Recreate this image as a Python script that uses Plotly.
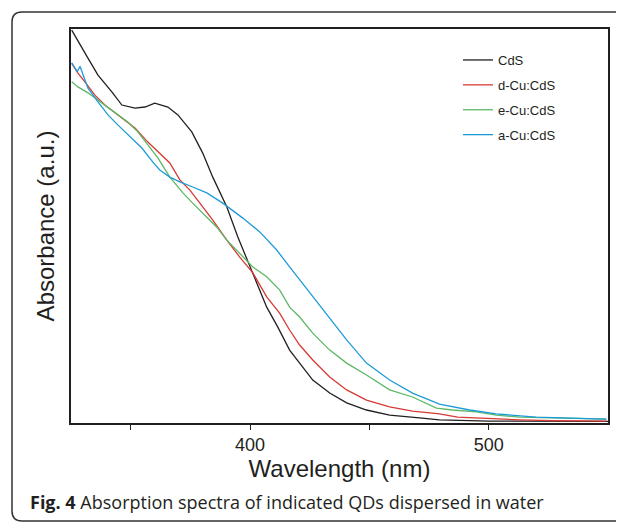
import plotly.graph_objects as go

# ---------------- data ----------------
cds_wl = [325.3, 328.8, 332.1, 336.3, 342.2, 346.3, 351.8, 356.0, 360.1, 365.6, 369.8,
          375.6, 380.2, 384.4, 390.3, 394.9, 401.2, 407.0, 411.6, 416.6, 420.8, 426.3,
          433.4, 440.5, 448.8, 458.5, 471.0, 479.4, 500.0, 525.0, 550.0]
cds_abs = [0.997, 0.959, 0.926, 0.883, 0.840, 0.807, 0.799, 0.802, 0.812, 0.802, 0.782,
           0.739, 0.685, 0.624, 0.548, 0.472, 0.381, 0.294, 0.244, 0.185, 0.152, 0.109,
           0.076, 0.051, 0.033, 0.020, 0.013, 0.008, 0.005, 0.004, 0.004]

d_wl = [325.3, 327.9, 330.9, 335.0, 339.2, 343.4, 347.6, 351.8, 357.2, 363.1, 366.4,
        370.6, 374.8, 379.0, 384.4, 390.3, 395.7, 401.2, 407.0, 412.4, 416.6, 420.8,
        426.3, 433.4, 440.5, 448.8, 458.5, 468.1, 479.4, 487.0, 499.1, 512.9, 526.7, 549.3]
d_abs = [0.913, 0.888, 0.865, 0.832, 0.807, 0.787, 0.769, 0.749, 0.713, 0.680, 0.660,
         0.617, 0.591, 0.558, 0.515, 0.464, 0.421, 0.381, 0.320, 0.279, 0.236, 0.198,
         0.160, 0.117, 0.084, 0.058, 0.041, 0.030, 0.023, 0.015, 0.011, 0.008, 0.006, 0.005]

e_wl = [325.3, 327.9, 332.1, 336.3, 340.5, 344.7, 348.8, 353.0, 357.2, 361.4, 366.4,
        371.9, 376.0, 380.2, 386.1, 390.3, 395.7, 401.2, 407.0, 412.4, 416.6, 420.8,
        426.3, 433.4, 440.5, 448.8, 458.5, 468.1, 478.1, 484.8, 494.9, 503.2, 512.9,
        526.7, 549.3]
e_abs = [0.866, 0.853, 0.838, 0.820, 0.802, 0.782, 0.764, 0.739, 0.706, 0.673, 0.624,
         0.584, 0.558, 0.533, 0.497, 0.464, 0.431, 0.396, 0.371, 0.338, 0.294, 0.269,
         0.228, 0.185, 0.152, 0.122, 0.084, 0.066, 0.038, 0.033, 0.028, 0.020, 0.015,
         0.013, 0.010]

a_wl = [325.3, 327.6, 328.8, 332.1, 336.3, 340.5, 344.7, 350.5, 354.7, 359.3, 362.2,
        366.4, 370.6, 376.0, 381.9, 388.6, 397.0, 404.1, 411.2, 416.6, 420.8, 426.3,
        433.4, 440.5, 448.8, 458.5, 468.1, 479.4, 492.0, 503.2, 519.9, 533.7, 549.3]
a_abs = [0.914, 0.892, 0.905, 0.850, 0.815, 0.782, 0.756, 0.723, 0.698, 0.662, 0.642,
         0.624, 0.612, 0.599, 0.584, 0.558, 0.520, 0.485, 0.439, 0.396, 0.363, 0.320,
         0.266, 0.211, 0.152, 0.109, 0.076, 0.048, 0.033, 0.023, 0.015, 0.013, 0.010]

series_names = ["CdS", "d-Cu:CdS", "e-Cu:CdS", "a-Cu:CdS"]
series_x = [cds_wl, d_wl, e_wl, a_wl]
series_y = [cds_abs, d_abs, e_abs, a_abs]
series_colors = ["#231f20", "#d63a35", "#5cb865", "#1e9bd7"]

tick_vals = [350, 400, 450, 500]
tick_text = ["", "400", "", "500"]

x_title = "Wavelength (nm)"
y_title = "Absorbance (a.u.)"
caption = "<b>Fig. 4</b> Absorption spectra of indicated QDs dispersed in water"

# ---------------- figure ----------------
fig = go.Figure()
for i, (name, xs, ys, col) in enumerate(zip(series_names, series_x, series_y, series_colors)):
    fig.add_trace(go.Scatter(x=xs, y=ys, mode="lines", name=name,
                             legendgroup=f"g{i}",
                             line=dict(color=col, width=1.3)))

# the page body has an 8px margin, so the figure is laid out 8px smaller
OFF = 8
W, H = 624 - OFF, 524 - OFF
L, R, T, B = 71 - OFF, 16, 29 - OFF, 101
pw, ph = W - L - R, H - T - B


def px(xp):
    return (xp - OFF - L) / pw


def py(yp):
    return (H - B - (yp - OFF)) / ph


# outer rounded frame (extends past the right edge like the reference)
x0, x1 = px(12), px(650)
y0, y1 = py(521), py(12)
rx, ry = 10 / pw, 10 / ph
path = (f"M {x1},{y1} L {x0+rx},{y1} Q {x0},{y1} {x0},{y1-ry} "
        f"L {x0},{y0+ry} Q {x0},{y0} {x0+rx},{y0} L {x1},{y0}")

fig.update_layout(
    width=W, height=H,
    margin=dict(l=L, r=R, t=T, b=B, autoexpand=False),
    paper_bgcolor="white", plot_bgcolor="white",
    font=dict(family="Liberation Sans, Arial, sans-serif", color="#231f20"),
    showlegend=True,
    legend=dict(x=px(458), y=py(45), xanchor="left", yanchor="top",
                bgcolor="rgba(0,0,0,0)", borderwidth=0,
                font=dict(size=13, color="#231f20"),
                traceorder="grouped", tracegroupgap=5),
    shapes=[dict(type="path", xref="paper", yref="paper", path=path,
                 line=dict(color="#333333", width=1.5), layer="below")],
    annotations=[dict(text=caption, x=px(28), y=py(502), xref="paper", yref="paper",
                      xanchor="left", yanchor="middle", showarrow=False,
                      font=dict(family="Open Sans, Noto Sans, sans-serif", size=18,
                                color="#231f20"))],
)

fig.update_xaxes(range=[325, 550], tickvals=tick_vals, ticktext=tick_text,
                 ticks="outside", ticklen=5, tickwidth=1.3, tickcolor="#231f20",
                 showline=True, linecolor="#231f20", linewidth=1.5, mirror=True,
                 showgrid=False, zeroline=False,
                 tickfont=dict(size=18, color="#231f20"),
                 title=dict(text=x_title, font=dict(size=24, color="#231f20"), standoff=1))
fig.update_yaxes(range=[0, 1.0], showticklabels=False, ticks="",
                 showline=True, linecolor="#231f20", linewidth=1.5, mirror=True,
                 showgrid=False, zeroline=False,
                 title=dict(text=y_title, font=dict(size=24, color="#231f20"), standoff=8))

fig.write_html("out.html")
